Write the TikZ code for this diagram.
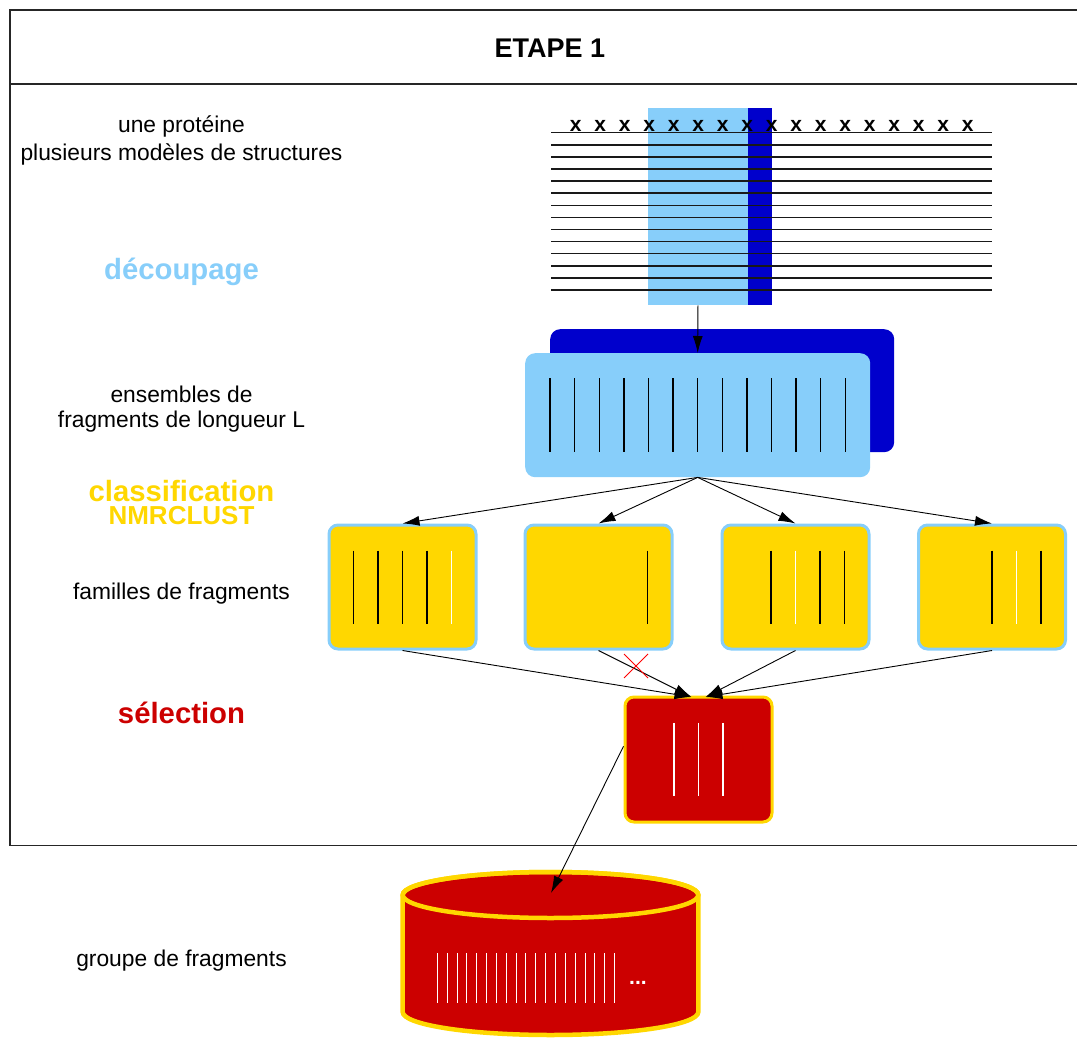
\documentclass[tikz,border=0pt]{standalone}
\usepackage{fontspec}
\setmainfont{Liberation Sans}
\usetikzlibrary{arrows.meta}
\definecolor{lblue}{HTML}{87CEFA}
\definecolor{dblue}{HTML}{0000CC}
\definecolor{gold}{HTML}{FFD700}
\definecolor{dred}{HTML}{CC0000}
\tikzset{
  lbl/.style={anchor=base, font=\fontsize{22.8}{27}\selectfont},
  blbl/.style={anchor=base, font=\fontsize{29.3}{33}\selectfont\bfseries},
  frame/.style={line width=1.5pt, draw=black!85},
  famille/.style={draw=lblue, fill=gold, line width=3pt, rounded corners=9pt, minimum width=147pt, minimum height=124pt, inner sep=0pt},
  conn/.style={line width=0.9pt, -{Latex[length=17pt,width=10pt]}},
  frag/.style={line width=1.4pt},
}
\begin{document}
\begin{tikzpicture}[x=1pt,y=1pt]
\useasboundingbox (0,0) rectangle (1077,-1038);
\clip (0,0) rectangle (1077,-1038);
% frame
\draw[frame] (1077,-10) -- (10,-10) -- (10,-845.7) -- (1077,-845.7);
\draw[frame] (10,-84) -- (1077,-84);
\node[anchor=base, font=\fontsize{27}{30}\selectfont\bfseries] (title) at (550,-58) {ETAPE 1};
% left labels
\node[lbl] (l1) at (181.5,-132.3) {une protéine};
\node[lbl] (l2) at (181.5,-160.7) {plusieurs modèles de structures};
\node[blbl, text=lblue] (l3) at (181.5,-279) {découpage};
\node[lbl] (l4) at (181.5,-402.3) {ensembles de};
\node[lbl] (l5) at (181.5,-427.7) {fragments de longueur L};
\node[blbl, text=gold, inner sep=0pt, text depth=0pt] (l6) at (181.5,-501.7) {classification};
\node[anchor=base, inner sep=0pt, text height=19pt, font=\fontsize{26}{30}\selectfont\bfseries, text=gold] (l7) at (181.5,-524) {NMRCLUST};
\node[lbl] (l8) at (181.5,-599.3) {familles de fragments};
\node[blbl, text=dred] (l9) at (181.5,-723.3) {sélection};
\node[lbl] (l10) at (181.5,-966.7) {groupe de fragments};
% structures
\node[fill=lblue, inner sep=0pt, minimum width=99.5pt, minimum height=197.3pt, anchor=north west] (cut) at (648,-107.7) {};
\node[fill=dblue, inner sep=0pt, minimum width=24.5pt, minimum height=197.3pt, anchor=north west] (cutd) at (747.3,-107.7) {};
\foreach \k in {0,...,13} {
  \draw[line width=1.5pt, black!90] (551,{-132.7-12.1*\k}) -- (992,{-132.7-12.1*\k});
}
\foreach \k in {0,...,16} {
  \node[anchor=base, inner sep=0pt, font=\fontsize{21}{24}\selectfont\bfseries] at ({575.7+24.5*\k},-132) {x};
}
% fragment sets
\node[fill=dblue, rounded corners=10pt, inner sep=0pt, minimum width=344pt, minimum height=123pt, anchor=north west] (back) at (550,-329) {};
\node[fill=lblue, rounded corners=10pt, inner sep=0pt, minimum width=345pt, minimum height=124pt, anchor=north west] (frags) at (525,-353) {};
\foreach \k in {0,...,12} {
  \draw[frag] ({550+24.6*\k},-378.3) -- ({550+24.6*\k},-452.3);
}
\draw[conn] (cut.south) -- (frags.north);
% families
\node[famille] (f1) at (402.5,-587) {};
\node[famille] (f2) at (598.5,-587) {};
\node[famille] (f3) at (795.5,-587) {};
\node[famille] (f4) at (992,-587) {};
\foreach \b/\o/\c in {f1/-49/black,f1/-24.5/black,f1/0/black,f1/24.5/black,f1/49/white,
                      f2/49/black,
                      f3/-24.5/black,f3/0/white,f3/24.5/black,f3/49/black,
                      f4/0/black,f4/24.5/white,f4/49/black} {
  \draw[frag, draw=\c] ([xshift=\o pt, yshift=36.5pt]\b.center) -- ([xshift=\o pt, yshift=-36.5pt]\b.center);
}
\foreach \b in {f1,f2,f3,f4} {
  \draw[conn] (frags.south) -- (\b.north);
}
% selection
\node[draw=gold, fill=dred, line width=3pt, rounded corners=9pt, minimum width=147pt, minimum height=125pt, inner sep=0pt] (sel) at (698.5,-759.5) {};
\foreach \o in {-24.5,0,24.5} {
  \draw[line width=1.2pt, white] ([xshift=\o pt, yshift=36.7pt]sel.center) -- ([xshift=\o pt, yshift=-36.7pt]sel.center);
}
\coordinate (selL) at (691.5,-697);
\coordinate (selR) at (705.5,-697);
\draw[conn] (f1.south) -- (selL);
\draw[conn] (f2.south) -- (selL);
\draw[conn] (f3.south) -- (selR);
\draw[conn] (f4.south) -- (selR);
\draw[red, line width=1pt] (624,-654) -- (648,-678) (648,-654) -- (624,-678);
% cylinder
\path[fill=dred, draw=gold, line width=4.5pt] (402.7,-895) -- (402.7,-1012) arc[start angle=180, end angle=360, x radius=147.8, y radius=23] -- (698.3,-895) arc[start angle=0, end angle=180, x radius=147.8, y radius=23] -- cycle;
\draw[draw=gold, line width=4.5pt] (550.5,-895) ellipse [x radius=147.8, y radius=23];
\coordinate (grp) at (551,-893);
\foreach \k in {0,...,18} {
  \draw[line width=1pt, white] ({437.3+9.85*\k},-953.3) -- ({437.3+9.85*\k},-1002.7);
}
\node[anchor=base west, inner sep=0pt, text=white, font=\fontsize{21}{24}\selectfont\bfseries] (dots) at (629,-984) {...};
\draw[conn] (sel.170) -- (grp);
\end{tikzpicture}
\end{document}
